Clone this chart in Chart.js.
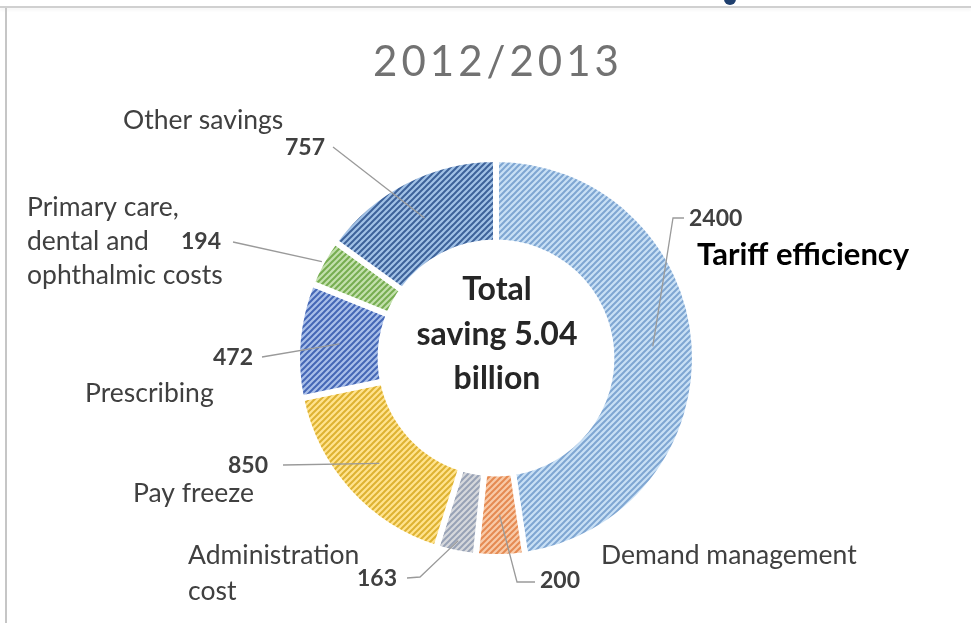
<!DOCTYPE html>
<html>
<head>
<meta charset="utf-8">
<script src="https://cdn.jsdelivr.net/npm/chart.js@4.4.1/dist/chart.umd.min.js"></script>
<style>
  html, body { margin: 0; padding: 0; background: #fff; }
  #marco { position: relative; width: 971px; height: 623px; overflow: hidden; }
  .linea-sup { position: absolute; left: 0; top: 6px; width: 971px; height: 2px; background: #d0d0d0; box-shadow: 0 2px 3px rgba(0,0,0,0.06); }
  .linea-izq { position: absolute; left: 5px; top: 8px; width: 2px; height: 615px; background: #c6c6c6; }
  .logo { position: absolute; left: 724px; top: -7px; width: 12px; height: 12px; border-radius: 50%; background: #1f3f6e; }
  #grafico { position: absolute; left: 0; top: 0; }
</style>
</head>
<body>
<div id="marco">
  <div class="linea-sup"></div>
  <div class="linea-izq"></div>
  <div class="logo"></div>
  <canvas id="grafico" width="971" height="623"></canvas>
</div>
<script>
// Datos del gráfico (millones)
const categorias = [
    'Tariff efficiency',
    'Demand management',
    'Administration cost',
    'Pay freeze',
    'Prescribing',
    'Primary care, dental and ophthalmic costs',
    'Other savings'
];
const ahorros = [2400, 200, 163, 850, 472, 194, 757];
const tituloGrafico = '2012/2013';
const textoCentral = ['Total', 'saving 5.04', 'billion'];

// Colores de fondo y de rayado de cada sector
const fondos = ['#c9e0f5', '#f8caa8', '#d6d8dc', '#ffe38f', '#a9bfe9', '#c3e0ad', '#a2c2e6'];
const rayas  = ['#7fa6d2', '#e58a52', '#98a2b6', '#deb232', '#4567b6', '#76ad50', '#3d629a'];

// Posición de cada rótulo: nombre, valor y línea guía hasta el sector
const rotulos = [
    { i: 0, nombre: ['Tariff efficiency'], nx: 697, ny: 255, nAlign: 'left', destacado: true,
      vx: 689, vy: 219, vAlign: 'left', guia: [[684, 218], [673, 218]], alcance: 0.5 },
    { i: 1, nombre: ['Demand management'], nx: 601, ny: 555, nAlign: 'left',
      vx: 540, vy: 581, vAlign: 'left', guia: [[535, 582], [517, 582]], alcance: 0.5 },
    { i: 2, nombre: ['Administration', 'cost'], nx: 188, ny: 555, nAlign: 'left', salto: 36,
      vx: 397, vy: 579, vAlign: 'right', guia: [[407, 578], [420, 577]], alcance: 0.85 },
    { i: 3, nombre: ['Pay freeze'], nx: 133, ny: 493, nAlign: 'left',
      vx: 268, vy: 466, vAlign: 'right', guia: [[283, 465]], alcance: 0.5 },
    { i: 4, nombre: ['Prescribing'], nx: 85, ny: 393, nAlign: 'left',
      vx: 253, vy: 358, vAlign: 'right', guia: [[262, 357]], alcance: 0.5 },
    { i: 5, nombre: ['Primary care,', 'dental and', 'ophthalmic costs'], nx: 27, ny: 207, nAlign: 'left', salto: 34,
      vx: 221, vy: 242, vAlign: 'right', guia: [[233, 242]], alcance: 1.0 },
    { i: 6, nombre: ['Other savings'], nx: 123, ny: 120, nAlign: 'left',
      vx: 325, vy: 148, vAlign: 'right', guia: [[333, 147]], alcance: 0.5 }
];

const FAMILIA = 'Lato, "Open Sans", sans-serif';

// Trama de líneas diagonales "/" sobre un color de fondo
function crearRayado(fondo, raya) {
    const p = 6;
    const tile = document.createElement('canvas');
    tile.width = p;
    tile.height = p;
    const c = tile.getContext('2d');
    c.fillStyle = fondo;
    c.fillRect(0, 0, p, p);
    c.strokeStyle = raya;
    c.lineWidth = 2;
    c.beginPath();
    c.moveTo(0, p); c.lineTo(p, 0);
    c.moveTo(-1, 1); c.lineTo(1, -1);
    c.moveTo(p - 1, p + 1); c.lineTo(p + 1, p - 1);
    c.stroke();
    return c.createPattern(tile, 'repeat');
}

// Punto dentro del anillo, en el ángulo medio del sector
function puntoSector(arco, alcance) {
    const { x, y, startAngle, endAngle, innerRadius, outerRadius } =
        arco.getProps(['x', 'y', 'startAngle', 'endAngle', 'innerRadius', 'outerRadius'], true);
    const ang = (startAngle + endAngle) / 2;
    const r = innerRadius + (outerRadius - innerRadius) * alcance;
    return [x + Math.cos(ang) * r, y + Math.sin(ang) * r];
}

const rotulosPlugin = {
    id: 'rotulos',
    afterDatasetsDraw(chart) {
        const ctx = chart.ctx;
        const arcos = chart.getDatasetMeta(0).data;
        ctx.save();

        // Título
        ctx.fillStyle = '#727272';
        ctx.font = '42px ' + FAMILIA;
        ctx.textAlign = 'center';
        ctx.textBaseline = 'middle';
        ctx.letterSpacing = '4px';
        ctx.fillText(tituloGrafico, 498, 62);
        ctx.letterSpacing = '0px';

        // Texto del centro
        ctx.fillStyle = '#262626';
        ctx.font = 'bold 32px ' + FAMILIA;
        const cy = [290, 335, 379];
        textoCentral.forEach((t, k) => ctx.fillText(t, 497, cy[k]));

        // Líneas guía
        ctx.strokeStyle = '#9a9a9a';
        ctx.lineWidth = 1.3;
        rotulos.forEach(r => {
            const fin = puntoSector(arcos[r.i], r.alcance);
            ctx.beginPath();
            ctx.moveTo(r.guia[0][0], r.guia[0][1]);
            r.guia.slice(1).forEach(pt => ctx.lineTo(pt[0], pt[1]));
            ctx.lineTo(fin[0], fin[1]);
            ctx.stroke();
        });

        // Valores y nombres
        rotulos.forEach(r => {
            ctx.fillStyle = '#404040';
            ctx.font = 'bold 23px ' + FAMILIA;
            ctx.textAlign = r.vAlign;
            ctx.fillText(String(ahorros[r.i]), r.vx, r.vy);

            if (r.destacado) {
                ctx.fillStyle = '#000';
                ctx.font = 'bold 31px ' + FAMILIA;
            } else {
                ctx.fillStyle = '#404040';
                ctx.font = '26.5px ' + FAMILIA;
            }
            ctx.textAlign = r.nAlign;
            r.nombre.forEach((linea, k) => ctx.fillText(linea, r.nx, r.ny + k * (r.salto || 0)));
        });
        ctx.restore();
    }
};

const ctx = document.getElementById('grafico').getContext('2d');
new Chart(ctx, {
    type: 'doughnut',
    data: {
        labels: categorias,
        datasets: [{
            data: ahorros,
            backgroundColor: fondos.map((f, k) => crearRayado(f, rayas[k])),
            borderColor: '#ffffff',
            borderWidth: 6
        }]
    },
    options: {
        responsive: false,
        animation: false,
        cutout: '58%',
        layout: { padding: { left: 294, top: 156, right: 273, bottom: 63 } },
        plugins: {
            legend: { display: false },
            tooltip: { enabled: false }
        }
    },
    plugins: [rotulosPlugin]
});
</script>
</body>
</html>
